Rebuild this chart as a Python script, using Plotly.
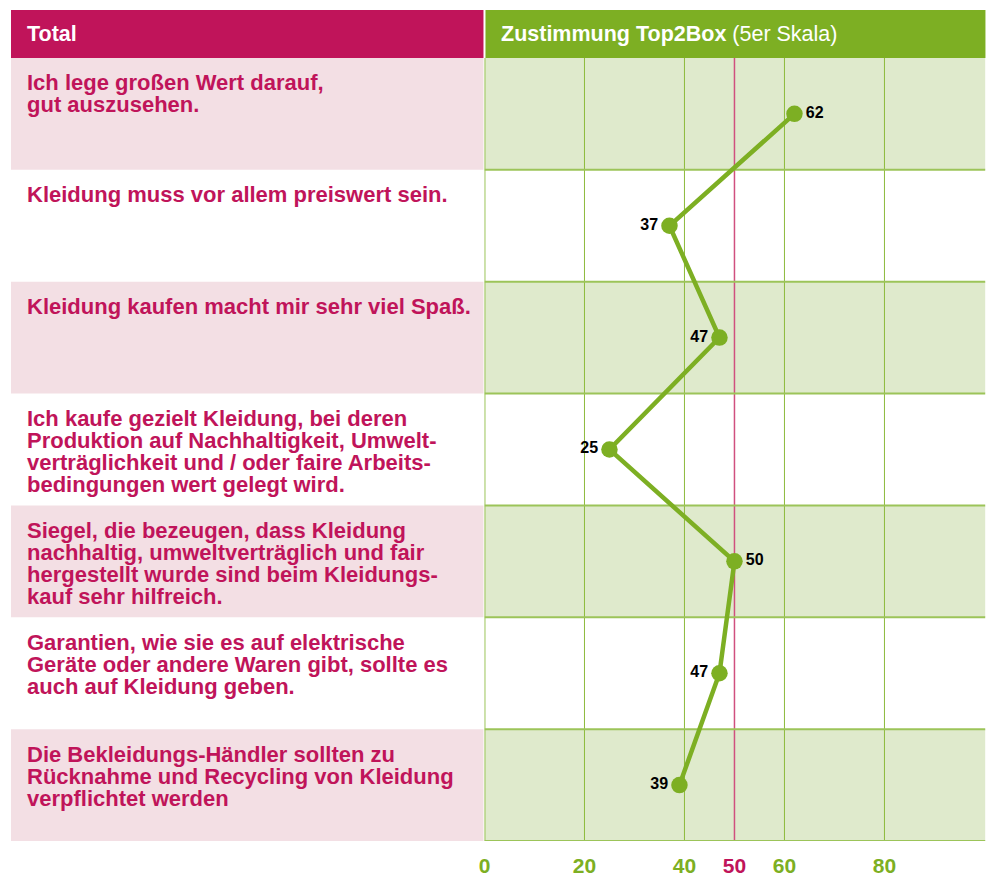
import plotly.graph_objects as go

statements = [
    ["Ich lege großen Wert darauf,", "gut auszusehen."],
    ["Kleidung muss vor allem preiswert sein."],
    ["Kleidung kaufen macht mir sehr viel Spaß."],
    ["Ich kaufe gezielt Kleidung, bei deren", "Produktion auf Nachhaltigkeit, Umwelt-",
     "verträglichkeit und / oder faire Arbeits-", "bedingungen wert gelegt wird."],
    ["Siegel, die bezeugen, dass Kleidung", "nachhaltig, umweltverträglich und fair",
     "hergestellt wurde sind beim Kleidungs-", "kauf sehr hilfreich."],
    ["Garantien, wie sie es auf elektrische", "Geräte oder andere Waren gibt, sollte es",
     "auch auf Kleidung geben."],
    ["Die Bekleidungs-Händler sollten zu", "Rücknahme und Recycling von Kleidung",
     "verpflichtet werden"],
]
values = [62, 37, 47, 25, 50, 47, 39]
tick_vals = [0, 20, 40, 50, 60, 80]
reference_value = 50
header_left = "Total"
header_right = "<b>Zustimmung Top2Box</b> (5er Skala)"

MAGENTA = "#c0145a"
GREEN = "#7daf23"
PINK_BG = "#f3dfe4"
GREEN_BG = "#dfeacc"
GRID = "#8dbb3c"
ROWLINE = "#9cc459"
REDLINE = "#d0507f"
FONT = "Liberation Sans"

FW, FH = 992, 877
# empirical horizontal calibration of the capture
SX, BX = 0.994, 5.5


def px(x):
    return ((x - BX) / SX) / FW


def py(y):
    return 1 - y / FH


top_px, bot_px = 58, 842
left_px, right_px = 484, 985
row_h = (bot_px - top_px) / len(values)
n = len(values)
rows = list(range(n))

fig = go.Figure()
shapes = []
annotations = []

# header bars
shapes.append(dict(type="rect", xref="paper", yref="paper", x0=px(10.5), x1=px(483),
                   y0=py(top_px), y1=py(10), fillcolor=MAGENTA, line_width=0, layer="below"))
shapes.append(dict(type="rect", xref="paper", yref="paper", x0=px(485), x1=px(right_px),
                   y0=py(top_px), y1=py(10), fillcolor=GREEN, line_width=0, layer="below"))
annotations.append(dict(xref="paper", yref="paper", x=px(25), y=py(34), text="<b>" + header_left + "</b>",
                        showarrow=False, xanchor="left", yanchor="middle",
                        font=dict(family=FONT, size=21.5, color="white")))
annotations.append(dict(xref="paper", yref="paper", x=px(499), y=py(34), text=header_right,
                        showarrow=False, xanchor="left", yanchor="middle",
                        font=dict(family=FONT, size=21.5, color="white")))

# row backgrounds and statements
for i, lines in enumerate(statements):
    if i % 2 == 0:
        shapes.append(dict(type="rect", xref="paper", yref="y", x0=px(10.5), x1=px(483),
                           y0=i - 0.5, y1=i + 0.5, fillcolor=PINK_BG, line_width=0, layer="below"))
        shapes.append(dict(type="rect", xref="x", yref="y", x0=0, x1=100.2,
                           y0=i - 0.5, y1=i + 0.5, fillcolor=GREEN_BG, line_width=0, layer="below"))
    row_top = top_px + i * row_h
    for k, line in enumerate(lines):
        annotations.append(dict(xref="paper", yref="paper", x=px(25), y=py(row_top + 25 + 22 * k),
                                text="<b>" + line + "</b>", showarrow=False,
                                xanchor="left", yanchor="middle", align="left",
                                font=dict(family=FONT, size=22, color=MAGENTA)))

# vertical grid lines
for v in tick_vals[1:]:
    shapes.append(dict(type="line", xref="x", yref="y", x0=v, x1=v, y0=-0.5, y1=n - 0.5,
                       line=dict(color=REDLINE if v == reference_value else GRID,
                                 width=1.5 if v == reference_value else 1), layer="below"))
# horizontal row borders
for i in range(1, n + 1):
    shapes.append(dict(type="line", xref="x", yref="y", x0=0, x1=100.2, y0=i - 0.5, y1=i - 0.5,
                       line=dict(color=ROWLINE, width=2), layer="below"))
# left border of chart
shapes.append(dict(type="line", xref="x", yref="y", x0=0, x1=0, y0=-0.5, y1=n - 0.5,
                   line=dict(color=ROWLINE, width=2), layer="below"))

fig.add_trace(go.Scatter(
    x=values, y=rows, mode="lines+markers+text",
    line=dict(color=GREEN, width=4.5),
    marker=dict(color=GREEN, size=16.5),
    text=["<b>%d</b>" % v for v in values],
    textposition=["middle right" if v >= reference_value else "middle left" for v in values],
    textfont=dict(family=FONT, size=16, color="black"),
    hoverinfo="skip", showlegend=False, cliponaxis=False,
))

tick_text = ['<span style="color:%s">%d</span>' % (MAGENTA if v == reference_value else GREEN, v)
             for v in tick_vals]

fig.update_layout(
    width=FW, height=FH, margin=dict(l=0, r=0, t=0, b=0),
    paper_bgcolor="white", plot_bgcolor="rgba(0,0,0,0)",
    shapes=shapes, annotations=annotations,
    xaxis=dict(domain=[px(left_px), min(1.0, px(right_px))], range=[0, 100.2], showgrid=False,
               zeroline=False, tickmode="array", tickvals=tick_vals, ticktext=tick_text, ticks="",
               tickfont=dict(family=FONT, size=21, color=GREEN, weight="bold"),
               ticklabelstandoff=10, showline=False, fixedrange=True),
    yaxis=dict(domain=[py(bot_px), py(top_px)], range=[n - 0.5, -0.5], showgrid=False,
               zeroline=False, showticklabels=False, showline=False, fixedrange=True),
)

fig.write_html("out.html", config={"displayModeBar": False},
               post_script="document.body.style.margin='0';document.body.style.overflow='hidden';")
